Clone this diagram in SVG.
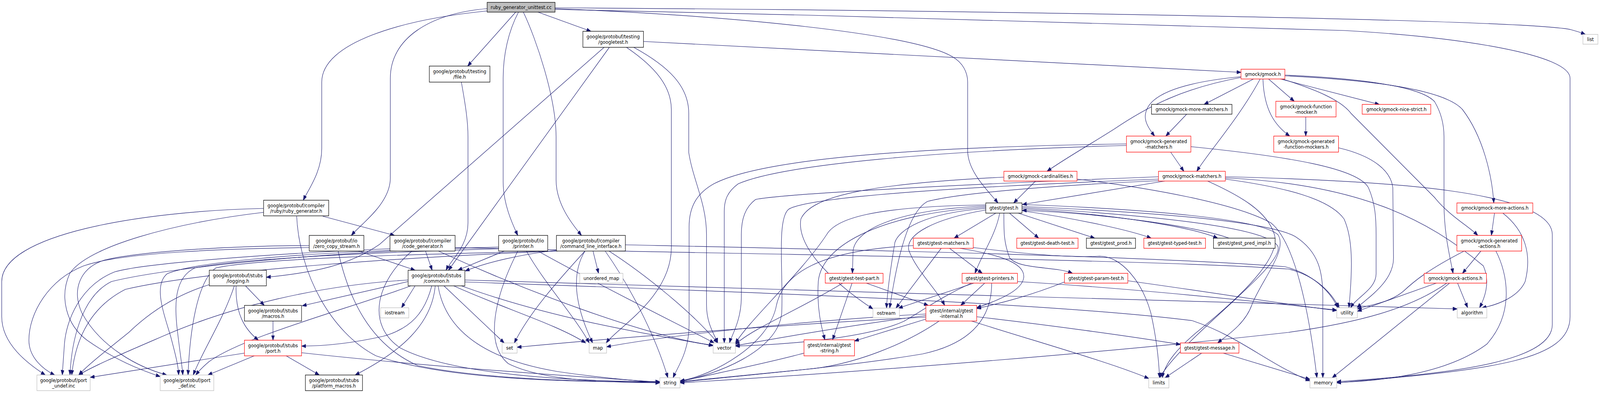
<svg xmlns="http://www.w3.org/2000/svg" width="4595" height="1005" viewBox="0 0 4595 1005" preserveAspectRatio="none" style="width:100vw;height:100vh;display:block">
<style>
.n rect{fill:#ffffff;stroke:#000000;stroke-width:1.3}
.r rect{stroke:#ff0000}
.g rect{stroke:#bfbfbf}
.root rect{fill:#bfbfbf}
text{font-family:"DejaVu Sans","Liberation Sans",sans-serif;font-size:13px;text-anchor:middle;fill:#000000}
#edges path{fill:none;stroke:#191970;stroke-width:1.2;marker-end:url(#a)}
</style>
<defs>
<marker id="a" markerWidth="13" markerHeight="10" refX="12.5" refY="4.6" orient="auto" markerUnits="userSpaceOnUse"><path d="M0,0 L12.5,4.6 L0,9.2 z" fill="#191970" stroke="#191970" stroke-width="1"/></marker>
</defs>
<rect width="4595" height="1005" fill="#ffffff"/>
<g id="edges">
<path d="M1399,28 C1150,50 924,110 924,210 L924,380 C924,440 885,485 871,512"/>
<path d="M1399,22 C1230,35 1121,100 1121,200 L1121,455 C1121,520 1040,570 1009,602"/>
<path d="M1481,31 L1343,169"/>
<path d="M1489,31 C1460,80 1445,140 1445,200 L1445,465 C1445,520 1470,570 1487,602"/>
<path d="M1503,31 C1540,100 1597,250 1597,350 L1597,460 C1597,520 1640,570 1670,602"/>
<path d="M1545,31 L1697,80"/>
<path d="M1594,22 C2100,40 2620,85 2735,145 C2765,160 2779,185 2779,210 L2779,385 C2779,440 2840,490 2866,519"/>
<path d="M1594,20 C2600,25 4380,48 4512,76 C4530,80 4542,84 4553,88"/>
<path d="M1594,24 C2400,38 3500,68 3860,78 C4200,95 4509,140 4509,200 L4509,810 C4509,920 4300,945 3839,979"/>
<path d="M1848,106 L3564,185"/>
<path d="M1735,121 L1090,625 C1000,680 900,697 765,709"/>
<path d="M1750,121 L1288,691"/>
<path d="M1799,121 C1880,170 1928,220 1928,280 L1928,633 C1928,760 1770,840 1741,877"/>
<path d="M1820,121 C1920,170 1978,220 1978,290 L1978,390 C1990,460 2029,520 2029,600 L2029,780 C2029,830 2055,860 2061,877"/>
<path d="M1325,210 C1337,270 1344,310 1344,350 L1344,570 C1344,630 1295,665 1281,691"/>
<path d="M757,533 C400,540 5,600 5,720 L5,810 C5,880 80,930 130,959"/>
<path d="M757,543 C500,570 250,630 200,700 C170,760 190,830 250,870 C330,920 400,945 460,963"/>
<path d="M852,553 C860,700 950,850 1080,910 C1300,975 1650,975 1895,978"/>
<path d="M927,553 L1133,602"/>
<path d="M888,633 C650,636 350,645 240,680 C140,715 83,800 83,870 C83,915 125,945 157,959"/>
<path d="M888,628 C700,628 420,640 300,665 C230,685 205,740 235,800 C290,890 400,940 479,959"/>
<path d="M1030,642 L1192,691"/>
<path d="M971,642 C1000,760 1060,880 1200,935 C1400,972 1700,976 1895,977"/>
<path d="M1120,636 C800,648 420,672 330,695 C230,730 190,820 185,880 C182,920 180,940 179,959"/>
<path d="M1120,640 C850,650 560,670 480,700 C440,730 470,800 490,860 C505,910 512,935 513,959"/>
<path d="M1183,642 C1080,720 1050,830 1150,890 C1300,960 1650,975 1895,976"/>
<path d="M1222,642 L1241,691"/>
<path d="M1259,642 C1500,740 1850,860 2048,883"/>
<path d="M1307,633 C1800,645 3300,662 3700,688 C3780,705 3825,750 3846,787"/>
<path d="M1432,636 C1100,645 700,660 560,685 C500,710 500,780 510,850 C518,910 523,935 525,959"/>
<path d="M1432,632 C1000,640 500,680 320,720 C230,760 205,880 201,959"/>
<path d="M1448,642 L1315,691"/>
<path d="M1487,642 C1420,760 1390,880 1460,930 C1560,975 1750,978 1895,979"/>
<path d="M1512,642 C1560,720 1660,820 1692,877"/>
<path d="M1545,642 C1700,720 1950,830 2051,877"/>
<path d="M1598,642 C1200,650 750,660 620,685 C565,720 545,850 540,959"/>
<path d="M1602,642 C1200,656 600,690 360,740 C250,790 215,880 206,959"/>
<path d="M1598,640 C1500,650 1400,670 1336,693"/>
<path d="M1680,642 C1600,720 1520,800 1477,877"/>
<path d="M1680,642 C1640,700 1650,780 1702,877"/>
<path d="M1703,642 L1719,699"/>
<path d="M1738,642 C1800,720 1880,850 1918,966"/>
<path d="M1749,642 C1850,700 1990,800 2061,877"/>
<path d="M1796,626 C2500,640 3300,655 3690,682 C3770,700 3820,745 3842,787"/>
<path d="M1172,716 C900,730 650,790 480,855 C350,905 270,935 226,959"/>
<path d="M1180,731 C1000,790 700,860 600,925 C580,940 570,950 562,959"/>
<path d="M1172,720 C1050,745 950,765 868,782"/>
<path d="M1192,731 L1153,787"/>
<path d="M1240,731 C1220,800 1180,840 1100,860 C1000,880 920,885 866,885"/>
<path d="M1250,731 C1240,830 1150,900 1020,959"/>
<path d="M1258,731 C1280,850 1400,920 1600,950 C1750,970 1850,975 1895,978"/>
<path d="M1275,731 L1448,877"/>
<path d="M1303,731 C1450,790 1600,830 1682,877"/>
<path d="M1325,731 C1600,820 1900,860 2048,884"/>
<path d="M1335,716 C2000,735 3200,765 3839,781 L4185,790"/>
<path d="M1335,721 C2000,742 3000,772 3424,820 C3560,860 3640,930 3762,974"/>
<path d="M784,821 L784,870"/>
<path d="M601,728 C520,750 440,790 370,850 C300,900 250,935 226,959"/>
<path d="M673,731 C640,820 580,900 555,959"/>
<path d="M705,731 L759,781"/>
<path d="M678,731 C676,800 700,840 742,870"/>
<path d="M702,903 L259,965"/>
<path d="M730,910 L597,959"/>
<path d="M822,910 L917,959"/>
<path d="M866,902 C1200,935 1600,960 1895,977"/>
<path d="M3564,196 C3400,210 3300,240 3290,290 C3285,310 3300,330 3316,348"/>
<path d="M3564,198 C3400,225 3300,270 3200,330 C3120,375 3060,405 3007,438"/>
<path d="M3600,202 L3458,267"/>
<path d="M3619,202 C3560,300 3470,390 3437,438"/>
<path d="M3627,202 C3630,280 3660,320 3704,348"/>
<path d="M3643,202 L3717,259"/>
<path d="M3677,202 L3961,267"/>
<path d="M3683,202 C3780,230 3850,255 3880,290 L4120,505 C4160,550 4220,580 4244,602"/>
<path d="M3690,192 C3900,200 4080,220 4120,260 C4140,290 4147,320 4147,350 L4147,520 C4147,600 4165,660 4173,699"/>
<path d="M3690,194 C3950,205 4150,230 4200,280 C4260,350 4285,450 4290,519"/>
<path d="M3750,299 L3750,348"/>
<path d="M3408,292 L3348,348"/>
<path d="M3362,389 L3400,438"/>
<path d="M3235,368 C2700,375 2200,400 2050,470 C2000,495 1979,530 1979,580 L1979,830 C1979,900 1945,940 1933,966"/>
<path d="M3235,372 C2700,385 2250,420 2120,470 C2090,490 2080,510 2080,540 L2080,877"/>
<path d="M3420,375 C3700,400 3900,430 3930,480 C3950,520 3952,560 3952,600 L3952,700 C3952,740 3895,760 3879,787"/>
<path d="M3844,378 C3950,400 3995,440 4000,480 L4002,660 C4002,720 3930,760 3897,787"/>
<path d="M2974,463 L2911,519"/>
<path d="M2883,453 C2500,470 2330,500 2300,560 C2285,640 2420,740 2507,790"/>
<path d="M3093,458 C3300,480 3550,520 3650,570 C3720,620 3760,800 3782,966"/>
<path d="M3345,463 L2936,523"/>
<path d="M3327,452 C2800,470 2250,495 2170,510 C2140,530 2129,560 2129,600 L2129,760 C2129,820 2100,860 2095,877"/>
<path d="M3327,458 C2700,480 2320,505 2265,535 C2230,560 2250,700 2245,800 C2235,900 2050,960 1953,975"/>
<path d="M3330,462 C3000,475 2750,495 2664,515 C2600,545 2570,700 2555,788"/>
<path d="M3468,463 C3560,500 3640,540 3660,600 C3680,660 3560,760 3450,840 C3380,890 3345,930 3338,966"/>
<path d="M3519,452 C4000,462 4458,490 4458,600 L4458,830 C4458,920 4200,955 3839,976"/>
<path d="M3519,458 C3700,480 3820,510 3860,560 C3885,610 3885,680 3874,787"/>
<path d="M3519,455 C3900,470 4100,560 4260,680 C4280,720 4265,760 4249,787"/>
<path d="M2860,545 L2740,609"/>
<path d="M2899,545 L2983,609"/>
<path d="M2924,545 L3144,609"/>
<path d="M2935,539 C3100,560 3250,590 3306,609"/>
<path d="M2935,534 C3200,548 3420,580 3497,609"/>
<path d="M2831,527 C2600,535 2460,580 2450,640 L2448,699"/>
<path d="M2831,530 C2550,545 2360,620 2350,720 C2345,790 2360,840 2369,869"/>
<path d="M2831,533 C2650,545 2580,590 2570,620 C2555,700 2548,750 2546,788"/>
<path d="M2831,537 C2680,560 2600,600 2610,640 C2630,690 2690,740 2713,781"/>
<path d="M2831,524 C2500,528 2400,560 2374,600 C2300,700 2150,820 2112,878"/>
<path d="M2871,545 C2860,600 2820,650 2800,699"/>
<path d="M2883,545 C2883,590 2882,620 2900,660 C2930,690 3030,680 3080,699"/>
<path d="M2935,523 C3300,535 3620,560 3670,600 C3700,640 3620,720 3595,780 C3575,830 3520,860 3497,877"/>
<path d="M2935,531 C3300,550 3640,580 3670,630 C3690,680 3400,860 3330,966"/>
<path d="M2935,528 C3300,542 3640,565 3720,605 C3790,645 3799,700 3799,760 L3799,966"/>
<path d="M3530,609 C3420,575 3150,545 2936,538"/>
<path d="M2420,724 C2300,790 2160,840 2112,881"/>
<path d="M2447,724 L2391,869"/>
<path d="M2488,724 L2666,781"/>
<path d="M2797,724 L2580,788"/>
<path d="M2828,724 L2759,781"/>
<path d="M2848,724 C2848,820 2780,880 2650,905 C2450,935 2200,955 1953,977"/>
<path d="M2790,724 C2700,760 2640,800 2595,822 C2500,860 2300,880 2112,885"/>
<path d="M2922,720 C3300,740 3700,780 3839,793"/>
<path d="M2703,635 L2573,788"/>
<path d="M2727,635 L2821,699"/>
<path d="M2757,635 C2860,650 2945,670 2940,710 C2935,745 2860,770 2805,787"/>
<path d="M2623,628 C2350,640 2250,700 2230,780 C2210,880 2050,960 1953,974"/>
<path d="M2795,633 C2950,650 3080,660 3158,655 C3220,655 3280,720 3305,800 C3320,860 3328,920 3330,966"/>
<path d="M2659,816 L2454,872"/>
<path d="M2697,821 C2600,880 2450,935 2310,945 C2150,960 2000,972 1953,976"/>
<path d="M2659,807 C2450,830 2200,870 2112,884"/>
<path d="M2659,803 C2300,820 1900,860 1742,887"/>
<path d="M2659,811 C2200,832 1700,870 1485,888"/>
<path d="M2805,810 C3000,830 3250,860 3390,881"/>
<path d="M2790,821 C3000,880 3200,930 3299,968"/>
<path d="M2309,903 C2200,930 2000,965 1953,976"/>
<path d="M3451,903 L3346,966"/>
<path d="M3513,903 L3762,970"/>
<path d="M3060,720 C2950,760 2850,780 2805,789"/>
<path d="M3239,718 C3500,750 3700,780 3839,794"/>
<path d="M4292,545 L4283,602"/>
<path d="M4316,545 C4380,590 4400,650 4380,720 C4360,760 4300,780 4256,787"/>
<path d="M4253,642 L4200,699"/>
<path d="M4205,642 C4100,690 4060,720 4030,745 C3990,775 3930,780 3898,790"/>
<path d="M4296,642 C4330,700 4350,800 4270,880 C4150,960 3950,975 3839,978"/>
<path d="M4125,724 L3898,796"/>
<path d="M4155,724 C4050,790 3900,825 3700,850 C3200,900 2500,950 1953,979"/>
<path d="M4163,724 L3826,966"/>
<path d="M4186,724 L4215,787"/>
</g>
<g id="nodes">
<g id="n_root" class="n root"><rect x="1399" y="6" width="195" height="25"/><text x="1496.5" y="23.5">ruby_generator_unittest.cc</text></g>
<g id="n_googletest" class="n"><rect x="1674" y="80" width="174" height="41"/><text x="1761" y="98">google/protobuf/testing</text><text x="1761" y="112.5">/googletest.h</text></g>
<g id="n_list" class="n g"><rect x="4546" y="88" width="43" height="25"/><text x="4567.5" y="105.5">list</text></g>
<g id="n_file" class="n"><rect x="1233" y="169" width="174" height="41"/><text x="1320" y="187">google/protobuf/testing</text><text x="1320" y="201.5">/file.h</text></g>
<g id="n_gmock" class="n r"><rect x="3564" y="177" width="126" height="25"/><text x="3627" y="194.5">gmock/gmock.h</text></g>
<g id="n_more_matchers" class="n"><rect x="3307" y="267" width="231" height="25"/><text x="3422.5" y="284.5">gmock/gmock-more-matchers.h</text></g>
<g id="n_func_mocker" class="n r"><rect x="3664" y="259" width="173" height="40"/><text x="3750.5" y="277">gmock/gmock-function</text><text x="3750.5" y="291.5">-mocker.h</text></g>
<g id="n_nice_strict" class="n r"><rect x="3912" y="267" width="197" height="25"/><text x="4010.5" y="284.5">gmock/gmock-nice-strict.h</text></g>
<g id="n_gen_matchers" class="n r"><rect x="3235" y="348" width="185" height="41"/><text x="3327.5" y="366">gmock/gmock-generated</text><text x="3327.5" y="380.5">-matchers.h</text></g>
<g id="n_gen_func_mockers" class="n r"><rect x="3658" y="348" width="186" height="41"/><text x="3751" y="366">gmock/gmock-generated</text><text x="3751" y="380.5">-function-mockers.h</text></g>
<g id="n_cardinalities" class="n r"><rect x="2883" y="438" width="210" height="25"/><text x="2988" y="455.5">gmock/gmock-cardinalities.h</text></g>
<g id="n_gmock_matchers" class="n r"><rect x="3327" y="438" width="192" height="25"/><text x="3423" y="455.5">gmock/gmock-matchers.h</text></g>
<g id="n_ruby_gen" class="n"><rect x="757" y="512" width="187" height="40"/><text x="850.5" y="530">google/protobuf/compiler</text><text x="850.5" y="544.5">/ruby/ruby_generator.h</text></g>
<g id="n_gtest" class="n"><rect x="2831" y="519" width="104" height="26"/><text x="2883" y="536.5">gtest/gtest.h</text></g>
<g id="n_more_actions" class="n r"><rect x="4184" y="519" width="218" height="26"/><text x="4293" y="536.5">gmock/gmock-more-actions.h</text></g>
<g id="n_zcs" class="n"><rect x="888" y="602" width="157" height="40"/><text x="966.5" y="620">google/protobuf/io</text><text x="966.5" y="634.5">/zero_copy_stream.h</text></g>
<g id="n_code_gen" class="n"><rect x="1120" y="602" width="187" height="40"/><text x="1213.5" y="620">google/protobuf/compiler</text><text x="1213.5" y="634.5">/code_generator.h</text></g>
<g id="n_printer" class="n"><rect x="1432" y="602" width="141" height="40"/><text x="1502.5" y="620">google/protobuf/io</text><text x="1502.5" y="634.5">/printer.h</text></g>
<g id="n_cli" class="n"><rect x="1598" y="602" width="198" height="40"/><text x="1697" y="620">google/protobuf/compiler</text><text x="1697" y="634.5">/command_line_interface.h</text></g>
<g id="n_gtest_matchers" class="n r"><rect x="2623" y="609" width="172" height="26"/><text x="2709" y="626.5">gtest/gtest-matchers.h</text></g>
<g id="n_death_test" class="n r"><rect x="2920" y="609" width="176" height="26"/><text x="3008" y="626.5">gtest/gtest-death-test.h</text></g>
<g id="n_gtest_prod" class="n"><rect x="3120" y="609" width="141" height="26"/><text x="3190.5" y="626.5">gtest/gtest_prod.h</text></g>
<g id="n_typed_test" class="n r"><rect x="3285" y="609" width="177" height="26"/><text x="3373.5" y="626.5">gtest/gtest-typed-test.h</text></g>
<g id="n_pred_impl" class="n"><rect x="3485" y="609" width="177" height="26"/><text x="3573.5" y="626.5">gtest/gtest_pred_impl.h</text></g>
<g id="n_gen_actions" class="n r"><rect x="4184" y="602" width="186" height="40"/><text x="4277" y="620">gmock/gmock-generated</text><text x="4277" y="634.5">-actions.h</text></g>
<g id="n_logging" class="n"><rect x="601" y="691" width="164" height="40"/><text x="683" y="709">google/protobuf/stubs</text><text x="683" y="723.5">/logging.h</text></g>
<g id="n_common" class="n"><rect x="1172" y="691" width="163" height="40"/><text x="1253.5" y="709">google/protobuf/stubs</text><text x="1253.5" y="723.5">/common.h</text></g>
<g id="n_unordered_map" class="n g"><rect x="1665" y="699" width="124" height="25"/><text x="1727" y="716.5">unordered_map</text></g>
<g id="n_test_part" class="n r"><rect x="2370" y="699" width="166" height="25"/><text x="2453" y="716.5">gtest/gtest-test-part.h</text></g>
<g id="n_printers" class="n r"><rect x="2763" y="699" width="159" height="25"/><text x="2842.5" y="716.5">gtest/gtest-printers.h</text></g>
<g id="n_param_test" class="n r"><rect x="3057" y="699" width="182" height="25"/><text x="3148" y="716.5">gtest/gtest-param-test.h</text></g>
<g id="n_actions" class="n r"><rect x="4090" y="699" width="179" height="25"/><text x="4179.5" y="716.5">gmock/gmock-actions.h</text></g>
<g id="n_macros" class="n"><rect x="702" y="781" width="164" height="40"/><text x="784" y="799">google/protobuf/stubs</text><text x="784" y="813.5">/macros.h</text></g>
<g id="n_iostream" class="n g"><rect x="1093" y="787" width="81" height="26"/><text x="1133.5" y="804.5">iostream</text></g>
<g id="n_ostream" class="n g"><rect x="2507" y="788" width="76" height="25"/><text x="2545" y="805">ostream</text></g>
<g id="n_internal" class="n r"><rect x="2659" y="781" width="146" height="40"/><text x="2732" y="799">gtest/internal/gtest</text><text x="2732" y="813.5">-internal.h</text></g>
<g id="n_utility" class="n g"><rect x="3839" y="787" width="59" height="26"/><text x="3868.5" y="804.5">utility</text></g>
<g id="n_algorithm" class="n g"><rect x="4185" y="787" width="85" height="26"/><text x="4227.5" y="804.5">algorithm</text></g>
<g id="n_port_h" class="n r"><rect x="702" y="870" width="164" height="40"/><text x="784" y="888">google/protobuf/stubs</text><text x="784" y="902.5">/port.h</text></g>
<g id="n_set" class="n g"><rect x="1442" y="877" width="43" height="26"/><text x="1463.5" y="894.5">set</text></g>
<g id="n_map" class="n g"><rect x="1692" y="877" width="50" height="26"/><text x="1717" y="894.5">map</text></g>
<g id="n_vector" class="n g"><rect x="2048" y="877" width="64" height="26"/><text x="2080" y="894.5">vector</text></g>
<g id="n_gstring" class="n r"><rect x="2309" y="869" width="145" height="41"/><text x="2381.5" y="887">gtest/internal/gtest</text><text x="2381.5" y="901.5">-string.h</text></g>
<g id="n_message" class="n r"><rect x="3390" y="877" width="168" height="26"/><text x="3474" y="894.5">gtest/gtest-message.h</text></g>
<g id="n_port_undef" class="n g"><rect x="106" y="959" width="153" height="40"/><text x="182.5" y="977">google/protobuf/port</text><text x="182.5" y="991.5">_undef.inc</text></g>
<g id="n_port_def" class="n g"><rect x="460" y="959" width="154" height="40"/><text x="537" y="977">google/protobuf/port</text><text x="537" y="991.5">_def.inc</text></g>
<g id="n_platform_macros" class="n"><rect x="877" y="959" width="164" height="40"/><text x="959" y="977">google/protobuf/stubs</text><text x="959" y="991.5">/platform_macros.h</text></g>
<g id="n_string" class="n g"><rect x="1895" y="966" width="58" height="26"/><text x="1924" y="983.5">string</text></g>
<g id="n_limits" class="n g"><rect x="3299" y="966" width="58" height="26"/><text x="3328" y="983.5">limits</text></g>
<g id="n_memory" class="n g"><rect x="3762" y="966" width="77" height="26"/><text x="3800.5" y="983.5">memory</text></g>
</g>
</svg>
